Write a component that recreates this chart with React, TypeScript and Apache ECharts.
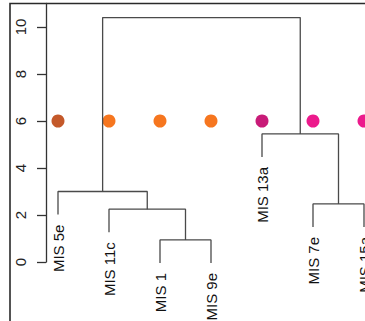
import React, { useEffect, useRef } from 'react';
import * as echarts from 'echarts';

const leafLabels = ['MIS 5e', 'MIS 11c', 'MIS 1', 'MIS 9e', 'MIS 13a', 'MIS 7e', 'MIS 15a'];
const dotColors = ['#c4592a', '#f6761f', '#f6761f', '#f6761f', '#c81b78', '#ec1a8c', '#ec1a8c'];
const dotLevel = 6;
// merges: negative = leaf (1-based), positive = earlier merge (1-based)
const mergeLeft = [-3, -2, -1, -6, -5, 3];
const mergeRight = [-4, 1, 2, -7, 4, 5];
const mergeHeight = [0.94, 2.25, 3.0, 2.47, 5.45, 10.4];
const hang = 0.98;
const yTicks = [0, 2, 4, 6, 8, 10];

function buildTree() {
  const mergeX: number[] = [];
  const leafEnd: number[] = new Array(leafLabels.length).fill(0);
  const segments: number[][][] = [];
  const xOf = (c: number) => (c < 0 ? -c : mergeX[c - 1]);
  for (let k = 0; k < mergeHeight.length; k++) {
    const H = mergeHeight[k];
    const l = mergeLeft[k];
    const r = mergeRight[k];
    const bottom = (c: number) => {
      if (c < 0) {
        leafEnd[-c - 1] = H - hang;
        return H - hang;
      }
      return mergeHeight[c - 1];
    };
    const xl = xOf(l);
    const xr = xOf(r);
    segments.push([[xl, bottom(l)], [xl, H], [xr, H], [xr, bottom(r)]]);
    mergeX.push((xl + xr) / 2);
  }
  return { segments, leafEnd };
}

export default function App() {
  const ref = useRef<HTMLDivElement>(null);
  useEffect(() => {
    if (!ref.current) return;
    const chart = echarts.init(ref.current, undefined, { renderer: 'svg' });
    const { segments, leafEnd } = buildTree();
    const font = '"Liberation Sans", Arial, Helvetica, sans-serif';
    const gridWidth = 319;
    const xMin = 1 - 12 / 51;
    const xMax = xMin + gridWidth / 51;
    chart.setOption({
      animation: false,
      grid: { left: 46, top: 3.5, width: gridWidth, height: 258.5 },
      xAxis: { type: 'value', min: xMin, max: xMax, show: false },
      yAxis: {
        type: 'value',
        min: 0,
        max: 11,
        position: 'left',
        axisLine: { show: true, lineStyle: { color: '#333', width: 1.3 } },
        axisTick: { show: true, customValues: yTicks, length: 9, lineStyle: { color: '#333', width: 1.3 } },
        axisLabel: { rotate: 90, customValues: yTicks, fontSize: 15, fontFamily: font, color: '#222', margin: 18 },
        splitLine: { show: false },
      },
      graphic: [
        {
          type: 'rect',
          shape: { x: 10, y: 3.5, width: 500, height: 500 },
          style: { fill: 'none', stroke: '#2a2a2a', lineWidth: 1.6 },
          silent: true,
        },
      ],
      series: [
        ...segments.map((seg) => ({
          type: 'line',
          data: seg,
          symbol: 'none',
          silent: true,
          clip: false,
          lineStyle: { color: '#4a4a4a', width: 1.3 },
        })),
        {
          type: 'scatter',
          symbolSize: 13,
          clip: false,
          data: leafLabels.map((_, i) => ({ value: [i + 1, dotLevel], itemStyle: { color: dotColors[i], opacity: 1 } })),
        },
        {
          type: 'custom',
          clip: false,
          data: leafLabels.map((_, i) => [i + 1, leafEnd[i]]),
          renderItem: (params: any, api: any) => {
            const p = api.coord([api.value(0), api.value(1)]);
            return {
              type: 'text',
              x: p[0],
              y: p[1] + 10,
              rotation: Math.PI / 2,
              style: {
                text: leafLabels[params.dataIndex],
                align: 'right',
                verticalAlign: 'middle',
                fontSize: 15,
                fontFamily: font,
                fill: '#111',
              },
            };
          },
        },
      ],
    });
    return () => chart.dispose();
  }, []);
  return <div ref={ref} style={{ position: 'absolute', left: 0, top: 0, width: 365, height: 321 }} />;
}
